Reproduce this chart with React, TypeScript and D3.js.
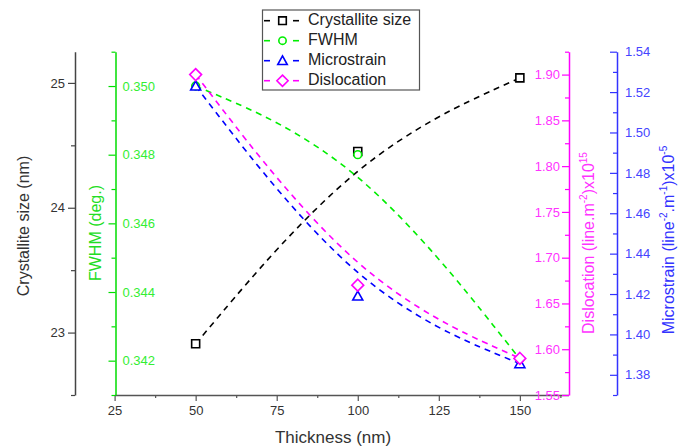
import React, { useRef, useEffect } from "react";
import * as d3 from "d3";

const thickness = [50, 100, 150];
const crystalliteSize = [22.91, 24.45, 25.04];
const fwhm = [0.35, 0.348, 0.34205];
const microstrain = [1.523, 1.419, 1.3855];
const dislocation = [1.9, 1.67, 1.59];

const xTicks = [25, 50, 75, 100, 125, 150];
const crystTicks = [23, 24, 25];
const fwhmTicks = [0.342, 0.344, 0.346, 0.348, 0.35];
const dislTicks = [1.55, 1.6, 1.65, 1.7, 1.75, 1.8, 1.85, 1.9];
const microTicks = [1.38, 1.4, 1.42, 1.44, 1.46, 1.48, 1.5, 1.52, 1.54];

const FONT = "'Liberation Sans', Arial, sans-serif";

const squareSym = {
  draw(ctx: any, size: number) {
    const r = Math.sqrt(size) / 2;
    ctx.rect(-r, -r, 2 * r, 2 * r);
  },
};
const diamondSym = {
  draw(ctx: any, size: number) {
    const r = Math.sqrt(size) / 2;
    ctx.moveTo(0, -r);
    ctx.lineTo(r, 0);
    ctx.lineTo(0, r);
    ctx.lineTo(-r, 0);
    ctx.closePath();
  },
};
const triangleSym = {
  draw(ctx: any, size: number) {
    const r = Math.sqrt(size) / 2;
    ctx.moveTo(0, -r);
    ctx.lineTo(r, r * 0.8);
    ctx.lineTo(-r, r * 0.8);
    ctx.closePath();
  },
};
const circleSym = {
  draw(ctx: any, size: number) {
    const r = Math.sqrt(size) / 2;
    ctx.moveTo(r, 0);
    ctx.arc(0, 0, r, 0, 2 * Math.PI);
  },
};

const App = () => {
  const ref = useRef<SVGSVGElement>(null);
  const width = 688;
  const height = 448;

  useEffect(() => {
    const svg = d3.select(ref.current);
    svg.selectAll("*").remove();

    const top = 51.7;
    const bottom = 395;
    const x = d3.scaleLinear().domain([25, 165]).range([114.6, 568.5]);
    const yC = d3.scaleLinear().domain([22.5, 25.25]).range([bottom, top]);
    const yF = d3.scaleLinear().domain([0.341, 0.351]).range([bottom, top]);
    const yD = d3.scaleLinear().domain([1.55, 1.925]).range([bottom, top]);
    const yM = d3.scaleLinear().domain([1.37, 1.54]).range([bottom, top]);

    const styleAxis = (g: any, color: string, textColor: string) => {
      g.selectAll("path.domain").attr("stroke", color).attr("stroke-width", 1.5);
      g.selectAll(".tick line").attr("stroke", color).attr("stroke-width", 1.2);
      g.selectAll(".tick text")
        .attr("fill", textColor)
        .style("font-family", FONT)
        .style("font-size", "13px");
    };
    const minor = (g: any, axis: any, vals: number[], color: string, size: number) => {
      const m = g.append("g").call(axis.tickValues(vals).tickSize(size).tickFormat(() => ""));
      m.select("path.domain").remove();
      m.selectAll(".tick line").attr("stroke", color).attr("stroke-width", 1.2);
    };
    const halfSteps = (a: number, b: number, step: number) =>
      d3.range(Math.round((b - a) / step) + 1).map((i) => +(a + i * step).toFixed(4));

    // x axis
    const gx = svg.append("g").attr("transform", `translate(0,${bottom})`);
    gx.call(d3.axisBottom(x).tickValues(xTicks).tickSize(6).tickSizeOuter(0).tickPadding(5));
    styleAxis(gx, "#555", "#333");
    minor(gx, d3.axisBottom(x), halfSteps(37.5, 162.5, 25), "#555", 3);

    // crystallite axis (left, black)
    const gc = svg.append("g").attr("transform", "translate(75,0)");
    gc.call(
      d3.axisLeft(yC).tickValues(crystTicks).tickSize(7).tickSizeOuter(0).tickPadding(3)
        .tickFormat(d3.format("d"))
    );
    styleAxis(gc, "#444", "#333");
    minor(gc, d3.axisLeft(yC), [22.5, 23.5, 24.5], "#444", 4);

    // FWHM axis (green)
    const gf = svg.append("g").attr("transform", "translate(115.5,0)");
    gf.call(
      d3.axisRight(yF).tickValues(fwhmTicks).tickSize(-7).tickSizeOuter(0).tickPadding(7)
        .tickFormat(d3.format(".3f"))
    );
    styleAxis(gf, "#00dd00", "#33ee33");
    minor(gf, d3.axisLeft(yF), halfSteps(0.341, 0.351, 0.002), "#00dd00", 4);

    // Dislocation axis (magenta)
    const gd = svg.append("g").attr("transform", "translate(569,0)");
    gd.call(
      d3.axisLeft(yD).tickValues(dislTicks).tickSize(7).tickSizeOuter(0).tickPadding(2)
        .tickFormat(d3.format(".2f"))
    );
    styleAxis(gd, "#ff00ff", "#ff33ff");
    minor(gd, d3.axisLeft(yD), halfSteps(1.575, 1.925, 0.05), "#ff00ff", 4);

    // Microstrain axis (blue)
    const gm = svg.append("g").attr("transform", "translate(617,0)");
    gm.call(
      d3.axisRight(yM).tickValues(microTicks).tickSize(-7).tickSizeOuter(0).tickPadding(8)
        .tickFormat(d3.format(".2f"))
    );
    styleAxis(gm, "#3333ff", "#4444ff");
    minor(gm, d3.axisLeft(yM), halfSteps(1.37, 1.53, 0.02), "#3333ff", 4);

    // axis titles
    const title = (tx: number, ty: number, rot: number, color: string, size: number) =>
      svg.append("text")
        .attr("transform", `translate(${tx},${ty}) rotate(${rot})`)
        .attr("text-anchor", "middle")
        .attr("dominant-baseline", "middle")
        .attr("fill", color)
        .style("font-family", FONT)
        .style("font-size", `${size}px`);

    title(333, 439, 0, "#333", 17).text("Thickness (nm)");
    title(25, 226, -90, "#333", 16).text("Crystallite size (nm)");
    title(97, 233, -90, "#22dd22", 16).text("FWHM (deg.)");

    const td = title(590, 243, -90, "#ff33ff", 16);
    td.append("tspan").text("Dislocation (line.m");
    td.append("tspan").attr("dy", -6).style("font-size", "10px").text("-2");
    td.append("tspan").attr("dy", 6).text(")x10");
    td.append("tspan").attr("dy", -6).style("font-size", "10px").text("15");

    const tm = title(670, 240, -90, "#3333ff", 16);
    tm.append("tspan").text("Microstrain (line");
    tm.append("tspan").attr("dy", -6).style("font-size", "10px").text("-2");
    tm.append("tspan").attr("dy", 6).text(".m");
    tm.append("tspan").attr("dy", -6).style("font-size", "10px").text("-1");
    tm.append("tspan").attr("dy", 6).text(")x10");
    tm.append("tspan").attr("dy", -6).style("font-size", "10px").text("-5");

    const series = [
      { name: "Crystallite size", values: crystalliteSize, y: yC, color: "#000", sym: squareSym, size: 64 },
      { name: "FWHM", values: fwhm, y: yF, color: "#00ee00", sym: circleSym, size: 60 },
      { name: "Microstrain", values: microstrain, y: yM, color: "#0000ff", sym: triangleSym, size: 100 },
      { name: "Dislocation", values: dislocation, y: yD, color: "#ff00ff", sym: diamondSym, size: 140 },
    ];

    series.forEach((s) => {
      const line = d3
        .line<number>()
        .x((_, i) => x(thickness[i]))
        .y((d) => s.y(d))
        .curve(d3.curveBasis);
      svg.append("path")
        .attr("d", line(s.values))
        .attr("fill", "none")
        .attr("stroke", s.color)
        .attr("stroke-width", 1.6)
        .attr("stroke-dasharray", "6,5");
    });

    series.forEach((s) => {
      svg.append("g")
        .selectAll("path")
        .data(s.values)
        .enter()
        .append("path")
        .attr("transform", (d, i) => `translate(${x(thickness[i])},${s.y(d)})`)
        .attr("d", d3.symbol().type(s.sym as any).size(s.size)())
        .attr("fill", "white")
        .attr("stroke", s.color)
        .attr("stroke-width", 1.6);
    });

    // legend
    const lg = svg.append("g");
    lg.append("rect")
      .attr("x", 262.5)
      .attr("y", 10)
      .attr("width", 157)
      .attr("height", 80)
      .attr("fill", "white")
      .attr("stroke", "#555")
      .attr("stroke-width", 1.2);
    series.forEach((s, i) => {
      const cy = 20.7 + i * 20;
      const row = lg.append("g").attr("transform", `translate(0,${cy})`);
      [[264, 270], [293, 299]].forEach(([a, b]) =>
        row.append("line")
          .attr("x1", a).attr("x2", b).attr("y1", 0).attr("y2", 0)
          .attr("stroke", s.color).attr("stroke-width", 1.6)
      );
      row.append("path")
        .attr("transform", "translate(282.5,0)")
        .attr("d", d3.symbol().type(s.sym as any).size(s.size * 0.9)())
        .attr("fill", "white")
        .attr("stroke", s.color)
        .attr("stroke-width", 1.6);
      row.append("text")
        .attr("x", 308)
        .attr("y", 0)
        .attr("dominant-baseline", "middle")
        .attr("fill", "#222")
        .style("font-family", FONT)
        .style("font-size", "16px")
        .text(s.name);
    });
  }, []);

  return (
    <svg
      ref={ref}
      width={width}
      height={height}
      style={{ position: "absolute", left: 0, top: 0, background: "white" }}
    ></svg>
  );
};

export default App;
